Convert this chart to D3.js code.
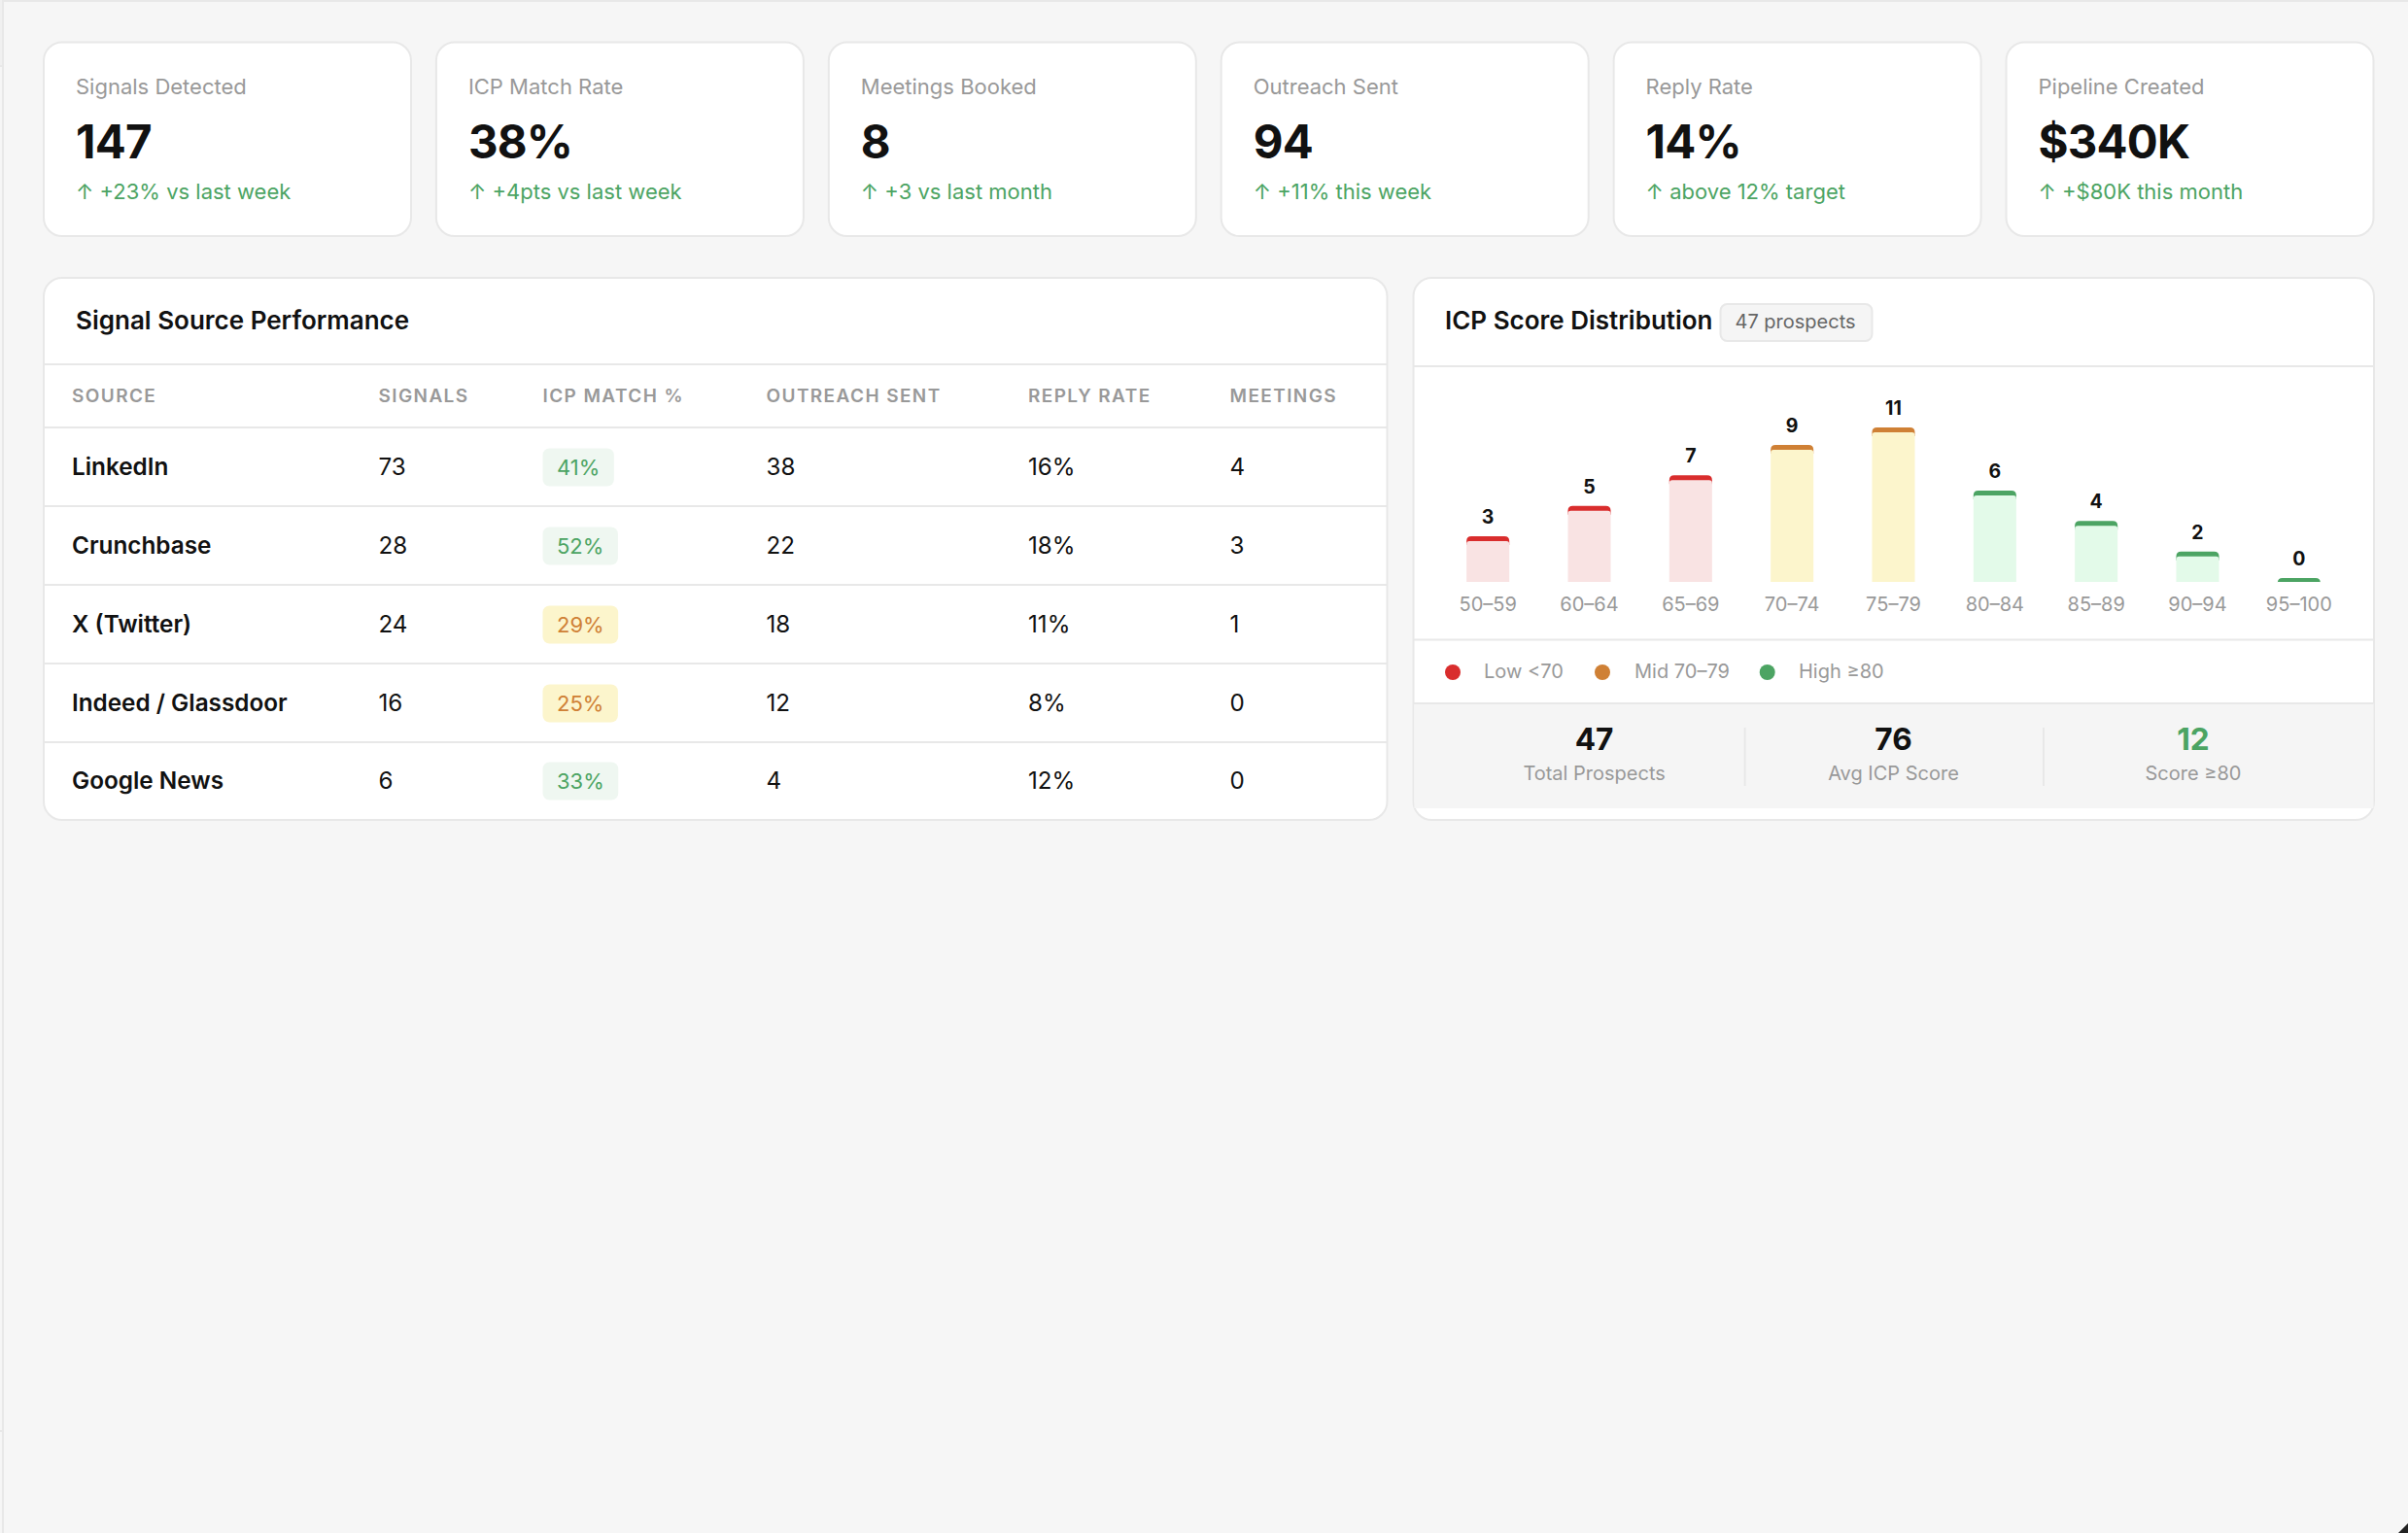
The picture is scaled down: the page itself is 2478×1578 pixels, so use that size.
<!DOCTYPE html>
<html>
<head>
<meta charset="utf-8">
<title>Signal dashboard</title>
<script src="https://cdn.jsdelivr.net/npm/d3@7"></script>
<style>
  html, body { margin: 0; background: #f6f6f6; }
  svg { display: block; font-family: Inter, sans-serif; }
</style>
</head>
<body>
<div id="chart"></div>
<script>
const kpiLabels = ['Signals Detected', 'ICP Match Rate', 'Meetings Booked', 'Outreach Sent', 'Reply Rate', 'Pipeline Created']
const kpiValues = ['147', '38%', '8', '94', '14%', '$340K']
const kpiDeltas = ['↑ +23% vs last week', '↑ +4pts vs last week', '↑ +3 vs last month', '↑ +11% this week', '↑ above 12% target', '↑ +$80K this month']

const tableHeaders = ['SOURCE', 'SIGNALS', 'ICP MATCH %', 'OUTREACH SENT', 'REPLY RATE', 'MEETINGS']
const sources = ['LinkedIn', 'Crunchbase', 'X (Twitter)', 'Indeed / Glassdoor', 'Google News']
const signals = [73, 28, 24, 16, 6]
const icpMatch = [41, 52, 29, 25, 33]
const outreach = [38, 22, 18, 12, 4]
const replyRate = [16, 18, 11, 8, 12]
const meetings = [4, 3, 1, 0, 0]

const scoreLabels = ['50–59', '60–64', '65–69', '70–74', '75–79', '80–84', '85–89', '90–94', '95–100']
const scoreCounts = [3, 5, 7, 9, 11, 6, 4, 2, 0]
const scoreTiers = ['low', 'low', 'low', 'mid', 'mid', 'high', 'high', 'high', 'high']

const legendLabels = ['Low <70', 'Mid 70–79', 'High ≥80']
const legendTiers = ['low', 'mid', 'high']
const statValues = ['47', '76', '12']
const statLabels = ['Total Prospects', 'Avg ICP Score', 'Score ≥80']

const ink = '#111111', muted = '#999999', line = '#e8e8e8', green = '#4ca463', orange = '#cf8035'
const capColor = { low: '#d92d2d', mid: orange, high: green }
const fillColor = { low: '#f9e3e3', mid: '#fcf5cc', high: '#e3fae9' }

const svg = d3.select('#chart').append('svg').attr('width', 2478).attr('height', 1578)

function label(g, x, y, str, size, color, weight, anchor) {
    return g.append('text').attr('x', x).attr('y', y).text(str)
        .attr('font-size', size).attr('fill', color)
        .attr('font-weight', weight || 400).attr('text-anchor', anchor || 'start')
}

function panel(x, y, w, h, r) {
    return svg.append('rect').attr('x', x + 1).attr('y', y + 1).attr('width', w - 2).attr('height', h - 2)
        .attr('rx', r).attr('fill', '#fff').attr('stroke', line).attr('stroke-width', 2)
}

function hline(x1, x2, y) {
    svg.append('rect').attr('x', x1).attr('y', y - 1).attr('width', x2 - x1).attr('height', 2).attr('fill', line)
}

// window edges left over in the screenshot
svg.append('rect').attr('width', 2478).attr('height', 2).attr('fill', line)
svg.append('rect').attr('x', 2).attr('width', 2).attr('height', 1578).attr('fill', line)
svg.append('rect').attr('width', 2).attr('height', 67).attr('fill', '#f0f0f0')
svg.append('rect').attr('y', 67).attr('width', 3).attr('height', 2).attr('fill', line)
svg.append('rect').attr('y', 1472).attr('width', 3).attr('height', 2).attr('fill', line)
svg.append('path').attr('d', 'M2478,1568L2478,1578L2468,1578Z').attr('fill', '#222')

// KPI cards
kpiLabels.forEach((name, i) => {
    const x = 44 + i * 403.9
    panel(x, 42.5, 380, 201.5, 19)
    label(svg, x + 34, 96.5, name, 22, muted)
    label(svg, x + 34, 163, kpiValues[i], 47.4, ink, 700).attr('letter-spacing', -0.8)
    label(svg, x + 34, 204.5, kpiDeltas[i], 22, green)
})

// source table
panel(44, 285, 1384.5, 560, 19)
label(svg, 78, 339, 'Signal Source Performance', 26, ink, 600)
hline(46, 1427, 375)

const colX = [74, 389.5, 558.5, 788.5, 1058, 1265.5]
tableHeaders.forEach((h, i) => {
    label(svg, colX[i], 414, h, 19, muted, 600).attr('letter-spacing', 1.4)
})
hline(46, 1427, 440)

const rowCenters = [481, 562, 643, 724, 804]
sources.forEach((src, i) => {
    const cy = rowCenters[i], base = cy + 7.5
    label(svg, colX[0], base, src, 24.3, ink, 600)
    label(svg, colX[1], base, signals[i], 24.2, ink)
    const good = icpMatch[i] >= 30
    const badge = svg.append('g')
    const rect = badge.append('rect').attr('x', colX[2]).attr('y', cy - 19.5).attr('height', 39).attr('rx', 7)
        .attr('fill', good ? '#eff7f1' : fillColor.mid)
    const txt = label(badge, colX[2] + 14.5, cy + 7.5, icpMatch[i] + '%', 22, good ? green : orange, 400)
    rect.attr('width', txt.node().getComputedTextLength() + 29)
    label(svg, colX[3], base, outreach[i], 24.2, ink)
    label(svg, colX[4], base, replyRate[i] + '%', 24.2, ink)
    label(svg, colX[5], base, meetings[i], 24.2, ink)
    if (i < sources.length - 1) hline(46, 1427, cy + 40)
})

// score distribution
panel(1453.5, 285, 990.5, 560, 19)
label(svg, 1487, 339, 'ICP Score Distribution', 26, ink, 600)
svg.append('rect').attr('x', 1770.5).attr('y', 313).attr('width', 156).attr('height', 38).attr('rx', 7)
    .attr('fill', '#f5f5f5').attr('stroke', line).attr('stroke-width', 2)
label(svg, 1785.5, 338, '47 prospects', 20, '#666666')
hline(1455, 2442.5, 377)

const x = d3.scaleBand().domain(scoreLabels).range([1479, 2418]).paddingInner(0.578).paddingOuter(0.289)
// the tallest bar sits a little under the line the others follow
const y = d3.scaleLinear().domain([0, 9, 11]).range([599, 458, 440])
const minBarHeight = 4
const capHeight = 5

function topRounded(x0, yTop, w, yBase, r) {
    return `M${x0},${yBase}V${yTop + r}Q${x0},${yTop} ${x0 + r},${yTop}H${x0 + w - r}Q${x0 + w},${yTop} ${x0 + w},${yTop + r}V${yBase}Z`
}

const scoreRows = scoreLabels.map((name, i) => ({ name, count: scoreCounts[i], tier: scoreTiers[i] }))
const barTop = d => Math.min(y(d.count), y(0) - minBarHeight)

const bars = svg.append('g').selectAll('g').data(scoreRows).join('g')
bars.append('path')
    .attr('d', d => topRounded(x(d.name), barTop(d), x.bandwidth(), Math.min(barTop(d) + 9, y(0)), 5))
    .attr('fill', d => capColor[d.tier])
bars.filter(d => d.count > 0).append('path')
    .attr('d', d => topRounded(x(d.name), barTop(d) + capHeight, x.bandwidth(), y(0), 3))
    .attr('fill', d => fillColor[d.tier])
bars.append('text')
    .attr('x', d => x(d.name) + x.bandwidth() / 2)
    .attr('y', d => barTop(d) - 13)
    .attr('text-anchor', 'middle').attr('font-size', 19.5).attr('font-weight', 700).attr('fill', ink)
    .text(d => d.count)

const axis = svg.append('g').attr('transform', `translate(0,${y(0)})`)
    .call(d3.axisBottom(x).tickSize(0).tickPadding(15.5))
axis.select('.domain').remove()
axis.selectAll('text').attr('font-size', 20).attr('font-family', 'Inter, sans-serif').attr('fill', muted)

hline(1455, 2442.5, 658.5)

const legendDotX = [1495, 1649, 1818.7]
const legendTextX = [1527, 1682, 1851]
legendLabels.forEach((name, i) => {
    svg.append('circle').attr('cx', legendDotX[i]).attr('cy', 692).attr('r', 8).attr('fill', capColor[legendTiers[i]])
    label(svg, legendTextX[i], 698, name, 20, muted)
})

svg.append('rect').attr('x', 1455.5).attr('y', 724).attr('width', 987).attr('height', 108).attr('fill', '#f5f5f5')
hline(1455, 2442.5, 724)

const statX = [1640.6, 1948.5, 2257]
statValues.forEach((v, i) => {
    label(svg, statX[i], 772, v, 31.6, i === 2 ? green : ink, 700, 'middle')
    label(svg, statX[i], 803, statLabels[i], 20, muted, 400, 'middle')
})
;[1795.6, 2103].forEach(sx => {
    svg.append('rect').attr('x', sx - 1).attr('y', 749).attr('width', 2).attr('height', 60).attr('fill', line)
})
</script>
</body>
</html>
